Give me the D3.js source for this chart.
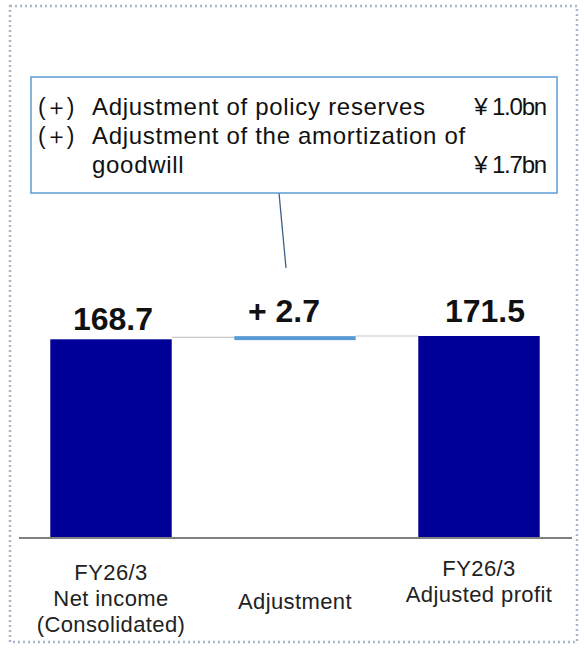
<!DOCTYPE html>
<html>
<head>
<meta charset="utf-8">
<script src="https://cdn.jsdelivr.net/npm/d3@7"></script>
<style>
  body { margin: 0; background: #fff; }
  svg text { font-family: Arial, "Liberation Sans", sans-serif; }
</style>
</head>
<body>
<svg id="chart" width="584" height="652"></svg>
<script>
// waterfall data
var categories = [["FY26/3", "Net income", "(Consolidated)"], ["Adjustment"], ["FY26/3", "Adjusted profit"]];
var values = [168.7, 2.7, 171.5];
var kinds = ["total", "delta", "total"];
var valueLabels = ["168.7", "+ 2.7", "171.5"];

// callout contents
var noteItems = [["Adjustment of policy reserves"], ["Adjustment of the amortization of", "goodwill"]];
var noteAmounts = ["\u00a5 1.0bn", "\u00a5 1.7bn"];

var svg = d3.select("#chart");

var margin = {top: 336, bottom: 114},
    base_y = 652 - margin.bottom;

var x = d3.scaleBand().domain(d3.range(values.length)).range([19, 571])
    .paddingInner(0.34).paddingOuter(0.17);
var y = d3.scaleLinear().domain([0, d3.max(values)]).range([base_y, margin.top]);

// outer dotted frame
svg.append("rect")
    .attr("x", 10).attr("y", 6)
    .attr("width", 567).attr("height", 636)
    .style("fill", "none")
    .style("stroke", "#a9b6cc")
    .style("stroke-width", 2.5)
    .style("stroke-dasharray", "2,3");

// running totals
var bars = [];
var run = 0;
for (let i = 0; i < values.length; i++) {
    if (kinds[i] == "total") {
        bars.push({lo: 0, hi: values[i]});
        run = values[i];
    } else {
        bars.push({lo: run, hi: run + values[i]});
        run = run + values[i];
    }
}

// connectors between bars
for (let i = 0; i < bars.length - 1; i++) {
    var yc = (i == 0) ? y(bars[i].hi) - 2 : y(bars[i + 1].hi);
    svg.append("line")
        .attr("x1", x(i) + x.bandwidth())
        .attr("x2", x(i + 1))
        .attr("y1", yc)
        .attr("y2", yc)
        .style("stroke", "#c8c8c8")
        .style("stroke-width", 1.2);
}

for (let i = 0; i < bars.length; i++) {
    var bar_top = y(bars[i].hi), bar_bot = y(bars[i].lo);
    svg.append("rect")
        .attr("x", x(i))
        .attr("y", bar_top)
        .attr("width", x.bandwidth())
        .attr("height", kinds[i] == "delta" ? Math.max(bar_bot - bar_top, 4) : bar_bot - bar_top)
        .style("fill", kinds[i] == "delta" ? "#5b9bd5" : "#000099");
}

// baseline
svg.append("line")
    .attr("x1", 19).attr("x2", 572)
    .attr("y1", base_y).attr("y2", base_y)
    .style("stroke", "#808080")
    .style("stroke-width", 2);

// value labels
var label_dx = [2, -11, 6],
    label_dy = [-9, -14, -14];
for (let i = 0; i < bars.length; i++) {
    svg.append("text")
        .attr("x", x(i) + x.bandwidth() / 2 + label_dx[i])
        .attr("y", y(bars[i].hi) + label_dy[i])
        .style("font-size", "32px")
        .style("font-weight", "bold")
        .style("text-anchor", "middle")
        .style("fill", "#111")
        .text(valueLabels[i]);
}

// category labels
var cat_top = [580, 609, 576];
for (let i = 0; i < categories.length; i++) {
    var t = svg.append("text")
        .attr("x", x(i) + x.bandwidth() / 2)
        .attr("y", cat_top[i])
        .style("font-size", "22px")
        .style("letter-spacing", "0.4px")
        .style("text-anchor", "middle")
        .style("fill", "#222");
    categories[i].forEach(function(s, j) {
        t.append("tspan")
            .attr("x", x(i) + x.bandwidth() / 2)
            .attr("dy", j == 0 ? 0 : 26)
            .text(s);
    });
}

// callout box
var box = {x: 31, y: 77, w: 526, h: 116};
svg.append("line")
    .attr("x1", 279).attr("y1", box.y + box.h)
    .attr("x2", 286).attr("y2", 268)
    .style("stroke", "#3d5f86")
    .style("stroke-width", 1.3);

svg.append("rect")
    .attr("x", box.x).attr("y", box.y)
    .attr("width", box.w).attr("height", box.h)
    .style("fill", "#fff")
    .style("stroke", "#5b9bd5")
    .style("stroke-width", 1.5);

var line_y = 115;
noteItems.forEach(function(lines, k) {
    svg.append("text")
        .attr("x", 38).attr("y", line_y)
        .style("font-size", "23px")
        .style("letter-spacing", "-1px")
        .style("fill", "#111")
        .text("(\uff0b)");
    lines.forEach(function(s, j) {
        svg.append("text")
            .attr("x", 92).attr("y", line_y)
            .style("font-size", "24px")
            .style("letter-spacing", "0.7px")
            .style("fill", "#111")
            .text(s);
        if (j == lines.length - 1) {
            svg.append("text")
                .attr("x", 546).attr("y", line_y)
                .style("font-size", "24px")
                .style("letter-spacing", "-1.2px")
                .style("text-anchor", "end")
                .style("fill", "#111")
                .text(noteAmounts[k]);
        }
        line_y += 29;
    });
});
</script>
</body>
</html>
